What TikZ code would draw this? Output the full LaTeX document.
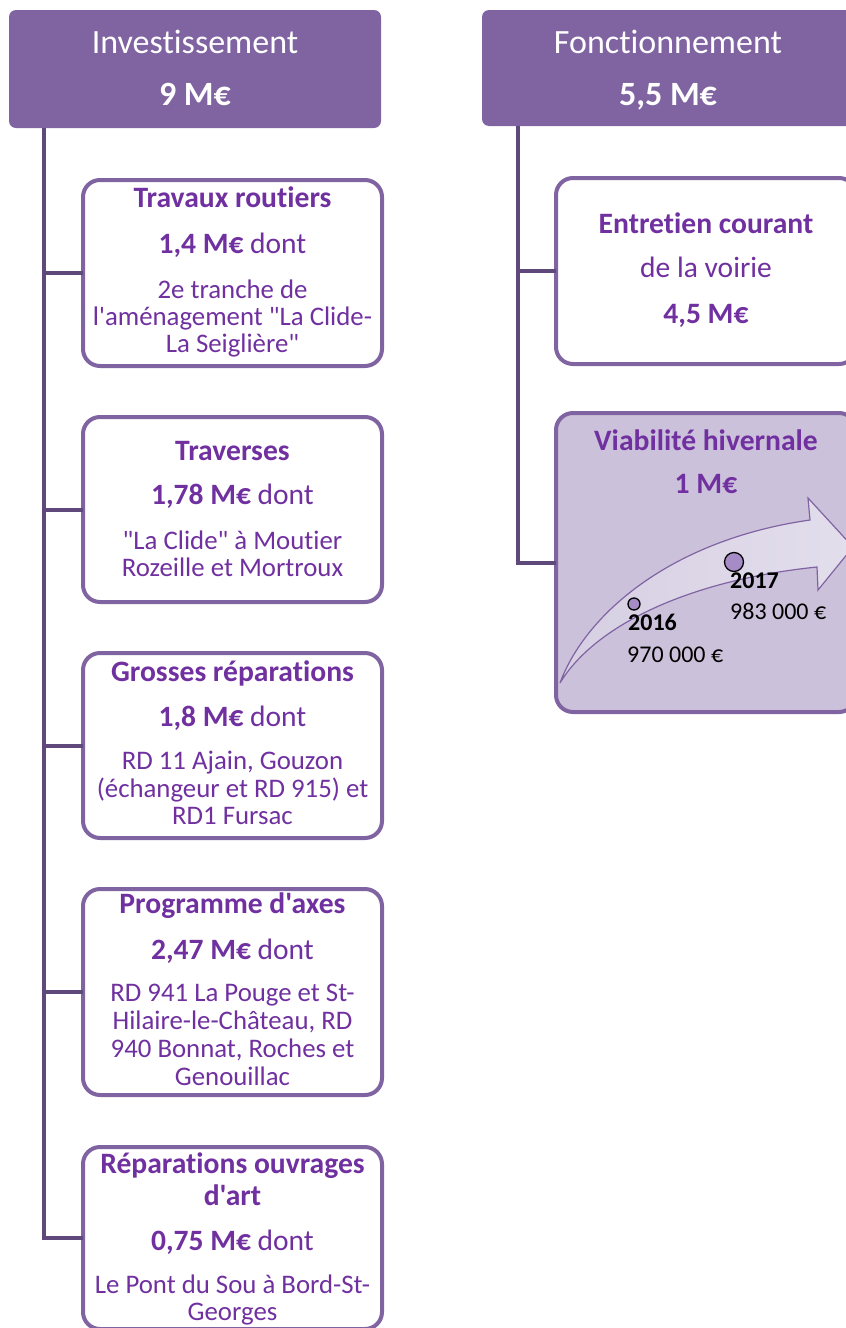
\documentclass[tikz,border=0pt]{standalone}
\usepackage{fontspec}
\setmainfont{Carlito}[Ligatures={TeXOff,CommonOff}]
\definecolor{hdrfill}{HTML}{8064A2}
\definecolor{boxline}{HTML}{8064A2}
\definecolor{connc}{HTML}{5F497A}
\definecolor{txtc}{HTML}{7030A0}
\definecolor{viafill}{HTML}{CCC1DA}
\definecolor{arrowA}{HTML}{D6CFE3}
\definecolor{arrowB}{HTML}{E3DEEC}
\definecolor{dotfill}{HTML}{A58CC7}
\begin{document}
\begin{tikzpicture}[x=1pt,y=-1pt,
  hdr/.style={fill=hdrfill, draw=none, rounded corners=7pt, inner sep=0pt, outer sep=0pt},
  boxn/.style={draw=boxline, line width=4pt, fill=white, rounded corners=17pt, inner sep=0pt, outer sep=0pt, minimum width=299pt},
  conn/.style={draw=connc, line width=4pt},
  ht/.style={anchor=base, inner sep=0pt, text=white, font=\fontsize{34}{40}\selectfont},
  tt/.style={anchor=base, inner sep=0pt, text=txtc, font=\fontsize{26.8}{27}\selectfont},
  ta/.style={anchor=base, inner sep=0pt, text=txtc, font=\fontsize{29.5}{30}\selectfont},
  tb/.style={anchor=base, inner sep=0pt, text=txtc, font=\fontsize{29.6}{30}\selectfont\bfseries},
  yr/.style={anchor=base west, inner sep=0pt, text=black, font=\fontsize{24}{28}\selectfont},
  dot/.style={circle, draw=black, line width=1.3pt, fill=dotfill, inner sep=0pt}
]
\useasboundingbox (0,0) rectangle (846,1328);
\clip (0,0) rectangle (846,1328);

% headers
\node[hdr, minimum width=372pt, minimum height=118pt] (h1) at (195,69) {};
\node[hdr, minimum width=372pt, minimum height=116pt] (h2) at (668,68) {};
\node[ht] (h1a) at (195,53) {Investissement};
\node[ht, font=\fontsize{34}{40}\selectfont\bfseries] (h1b) at (195,105) {9 M€};
\node[ht] (h2a) at (668,53) {Fonctionnement};
\node[ht, font=\fontsize{34}{40}\selectfont\bfseries] (h2b) at (668,105) {5,5 M€};

% left boxes
\node[boxn, minimum height=186pt] (b1) at (232.5,273) {};
\node[boxn, minimum height=185pt] (b2) at (232.5,509.5) {};
\node[boxn, minimum height=185pt] (b3) at (232.5,745.5) {};
\node[boxn, minimum height=206pt] (b4) at (232.5,992) {};
\node[boxn, minimum height=182pt] (b5) at (232.5,1238) {};

% right boxes
\node[boxn, minimum width=300pt, minimum height=186pt] (r1) at (706,271) {};
\node[boxn, minimum width=300pt, minimum height=299pt, fill=viafill] (r2) at (706,562.5) {};

% connectors
\coordinate (ltop) at (44,128);
\coordinate (rtop) at (518,126);
\draw[conn] (ltop) |- (b5.west);
\draw[conn] (ltop |- b1.west) -- (b1.west);
\draw[conn] (ltop |- b2.west) -- (b2.west);
\draw[conn] (ltop |- b3.west) -- (b3.west);
\draw[conn] (ltop |- b4.west) -- (b4.west);
\draw[conn] (rtop) |- (r2.west);
\draw[conn] (rtop |- r1.west) -- (r1.west);

% box 1
\node[tb] (t1a) at (232.5,207) {Travaux routiers};
\node[ta] (t1b) at (232.5,253) {\textbf{1,4 M€} dont};
\node[tt] (t1c) at (232.5,298) {2e tranche de};
\node[tt] (t1d) at (232.5,325) {l'aménagement "La Clide-};
\node[tt] (t1e) at (232.5,352) {La Seiglière"};
% box 2
\node[tb] (t2a) at (232.5,460) {Traverses};
\node[ta] (t2b) at (232.5,504) {\textbf{1,78 M€} dont};
\node[tt] (t2c) at (232.5,549) {"La Clide" à Moutier};
\node[tt] (t2d) at (232.5,576) {Rozeille et Mortroux};
% box 3
\node[tb] (t3a) at (232.5,681) {Grosses réparations};
\node[ta] (t3b) at (232.5,726) {\textbf{1,8 M€} dont};
\node[tt] (t3c) at (232.5,769) {RD 11 Ajain, Gouzon};
\node[tt] (t3d) at (232.5,797) {(échangeur et RD 915) et};
\node[tt] (t3e) at (232.5,824) {RD1 Fursac};
% box 4
\node[tb] (t4a) at (232.5,913) {Programme d'axes};
\node[ta] (t4b) at (232.5,959) {\textbf{2,47 M€} dont};
\node[tt] (t4c) at (232.5,1001) {RD 941 La Pouge et St-};
\node[tt] (t4d) at (232.5,1029) {Hilaire-le-Château, RD};
\node[tt] (t4e) at (232.5,1057) {940 Bonnat, Roches et};
\node[tt] (t4f) at (232.5,1085) {Genouillac};
% box 5
\node[tb] (t5a) at (232.5,1173) {Réparations ouvrages};
\node[tb] (t5b) at (232.5,1205) {d'art};
\node[ta] (t5c) at (232.5,1250) {\textbf{0,75 M€} dont};
\node[tt] (t5d) at (232.5,1293) {Le Pont du Sou à Bord-St-};
\node[tt] (t5e) at (232.5,1320) {Georges};

% right box 1
\node[tb] (u1a) at (706,233) {Entretien courant};
\node[ta] (u1b) at (706,277) {de la voirie};
\node[tb] (u1c) at (706,323) {4,5 M€};
% right box 2
\node[tb] (u2a) at (706,450) {Viabilité hivernale};
\node[tb] (u2b) at (706,493) {1 M€};

% arrow
\path[draw=boxline, line width=1.2pt, left color=arrowA, right color=arrowB]
  (560,683) .. controls (585,615) and (670,540) .. (810,520)
  -- (808,498) -- (853,547) -- (818,590) -- (817,567)
  .. controls (690,580) and (595,625) .. (560,683) -- cycle;

\node[dot, minimum size=12pt] (d16) at (634,604) {};
\node[dot, minimum size=19pt] (d17) at (734,562) {};
\node[yr, font=\fontsize{24}{28}\selectfont\bfseries] (y16) at (628,630) {2016};
\node[yr] (v16) at (627,662) {970 000 €};
\node[yr, font=\fontsize{24}{28}\selectfont\bfseries] (y17) at (730,588) {2017};
\node[yr] (v17) at (730,619) {983 000 €};
\end{tikzpicture}
\end{document}
